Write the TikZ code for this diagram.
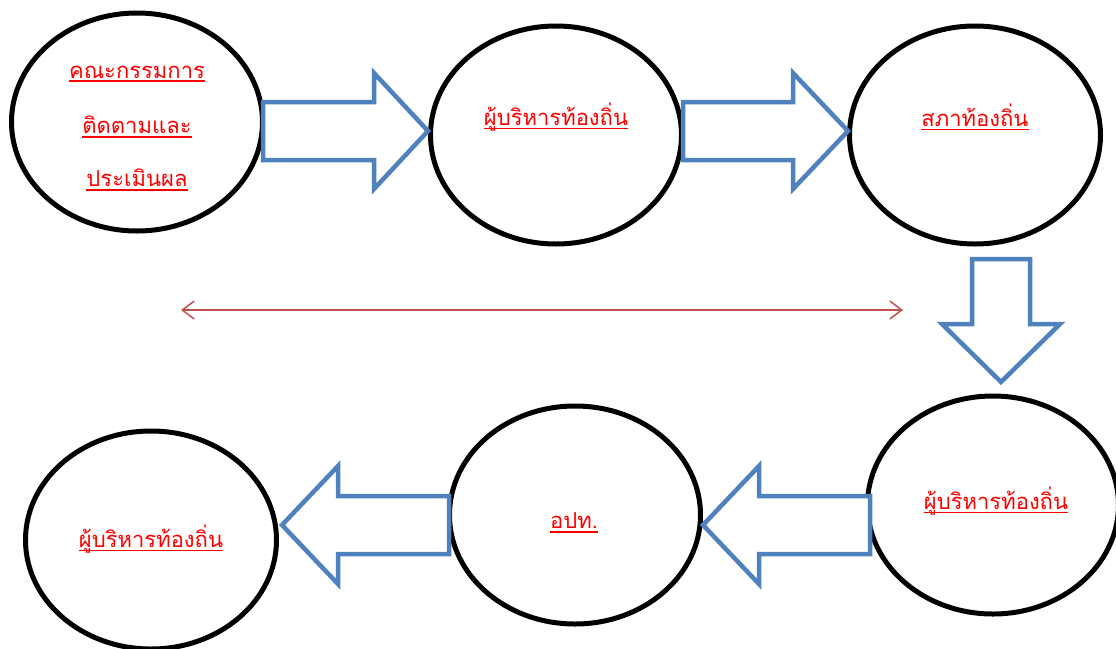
\documentclass[tikz,border=0pt]{standalone}
\usepackage{fontspec}
\newfontfamily\thaifont[Script=Thai]{Loma}
\usetikzlibrary{shapes.geometric,arrows.meta}
\definecolor{blk}{HTML}{4F81BD}
\definecolor{dred}{HTML}{C0504D}
\tikzset{
  oval/.style={ellipse,draw=black,line width=5pt,minimum width=251pt,minimum height=218pt,inner sep=0pt},
  lbl/.style={text=red,font=\thaifont\fontsize{22}{26}\selectfont,inner sep=0pt},
  blockarrow/.style={draw=blk,line width=4.5pt,fill=white,line join=miter},
  dbl/.style={draw=dred,line width=1.5pt,{Straight Barb[length=12pt,width=18pt]}-{Straight Barb[length=12pt,width=18pt]}}
}
\newcommand{\ul}[1]{\setbox0\hbox{#1}\copy0\llap{\rule[-4pt]{\wd0}{1.8pt}}}
\begin{document}
\begin{tikzpicture}[x=1pt,y=-1pt]
\useasboundingbox (0,0) rectangle (1116,648);
% ellipses
\node[oval] (e1) at (137,122) {};
\node[oval] (e2) at (556,135) {};
\node[oval] (e3) at (975,135) {};
\node[oval] (e4) at (993,505) {};
\node[oval] (e5) at (575,515) {};
\node[oval] (e6) at (151,540) {};
% block arrows
\draw[blockarrow] (263,102) -- (374,102) -- (374,73) -- (428,131) -- (374,189) -- (374,160) -- (263,160) -- cycle;
\draw[blockarrow] (683,102) -- (793,102) -- (793,73) -- (848,131) -- (793,189) -- (793,160) -- (683,160) -- cycle;
\draw[blockarrow] (972,259) -- (1030,259) -- (1030,324) -- (1060,324) -- (1001,382) -- (942,324) -- (972,324) -- cycle;
\draw[blockarrow] (870,496) -- (759,496) -- (759,466) -- (703,525) -- (759,584) -- (759,554) -- (870,554) -- cycle;
\draw[blockarrow] (449,496) -- (338,496) -- (338,466) -- (282,525) -- (338,584) -- (338,554) -- (449,554) -- cycle;
% labels
\node[lbl] (t1a) at (137,74) {\ul{คณะกรรมการ}};
\node[lbl] (t1b) at (137,127) {\ul{ติดตามและ}};
\node[lbl] (t1c) at (137,180) {\ul{ประเมินผล}};
\node[lbl] (t2) at (556,117) {\ul{ผู้บริหารท้องถิ่น}};
\node[lbl] (t3) at (975,117) {\ul{สภาท้องถิ่น}};
\node[lbl] (t4) at (996,501) {\ul{ผู้บริหารท้องถิ่น}};
\node[lbl] (t5) at (574,523) {\ul{อปท.}};
\node[lbl] (t6) at (151,539) {\ul{ผู้บริหารท้องถิ่น}};
% red double arrow
\coordinate (dl) at (181,310);
\coordinate (dr) at (903,310);
\draw[dbl] (dl) -- (dr);
\end{tikzpicture}
\end{document}
